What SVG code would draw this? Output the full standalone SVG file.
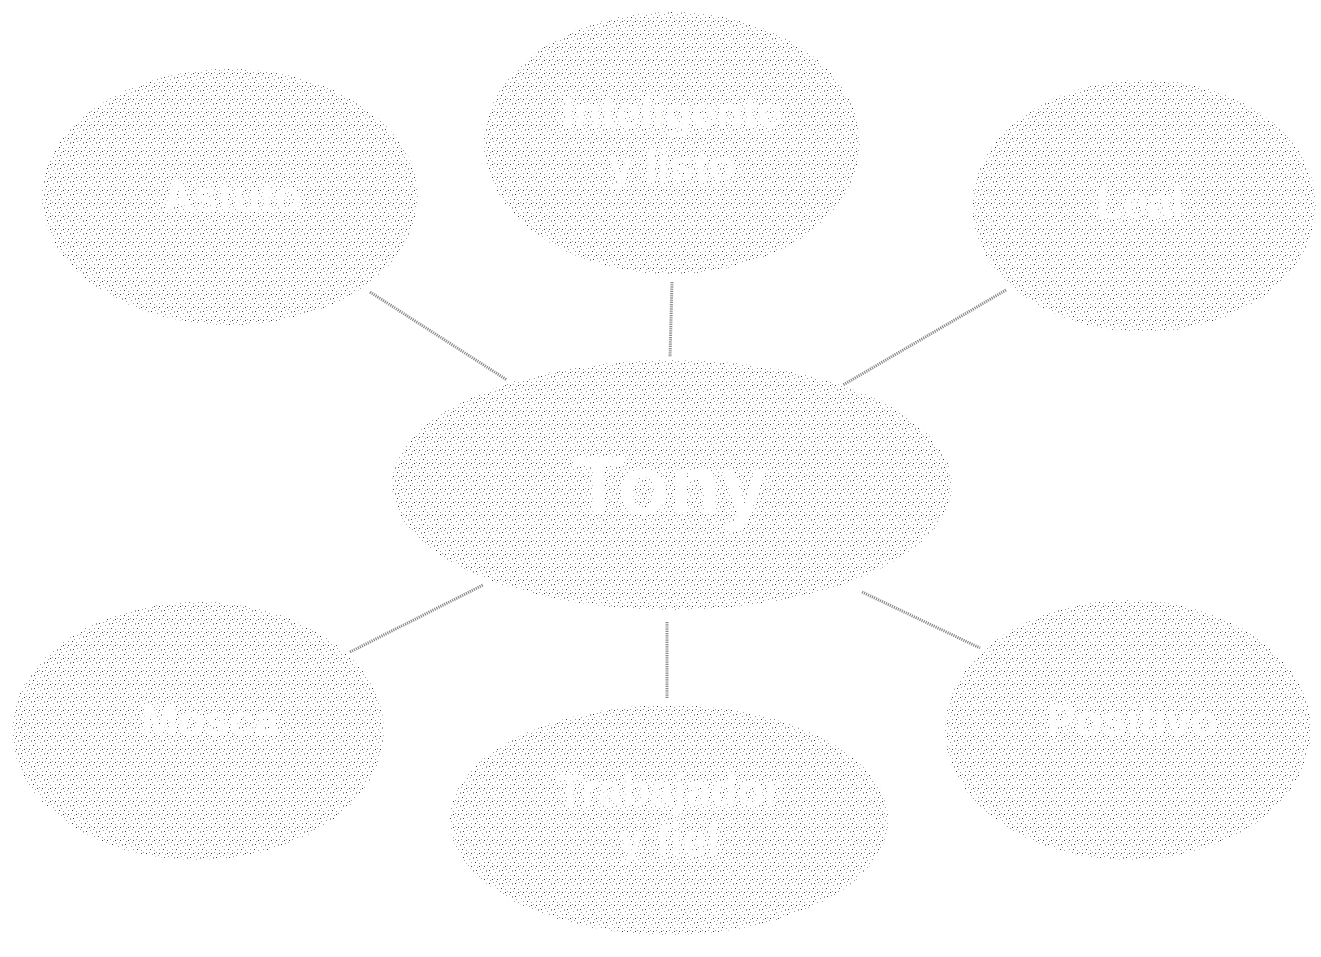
<svg xmlns="http://www.w3.org/2000/svg" width="1321" height="957" viewBox="0 0 1321 957">
<defs>
<pattern id="stip" width="13" height="13" patternUnits="userSpaceOnUse">
<g fill="#9c9c9c">
<rect x="1" y="1" width="1" height="1"/><rect x="5" y="0" width="1" height="1"/><rect x="9" y="2" width="1" height="1"/>
<rect x="3" y="4" width="1" height="1"/><rect x="11" y="5" width="1" height="1"/>
<rect x="0" y="7" width="1" height="1"/><rect x="6" y="7" width="1" height="1"/><rect x="9" y="9" width="1" height="1"/>
<rect x="2" y="10" width="1" height="1"/><rect x="12" y="11" width="1" height="1"/><rect x="5" y="12" width="1" height="1"/>
</g>
<g fill="#3a3a3a">
<rect x="7" y="4" width="1" height="1"/><rect x="3" y="8" width="1" height="1"/><rect x="11" y="8" width="1" height="1"/><rect x="8" y="12" width="1" height="1"/>
</g>
</pattern>
</defs>
<style>
.node{fill:url(#stip)}
.lbl{font-family:"Liberation Sans",Arial,sans-serif;font-weight:bold;fill:#fff;text-anchor:middle;dominant-baseline:central}
.conn{stroke:#8a8a8a;stroke-width:3;stroke-dasharray:1.2 1;fill:none}
</style>
<rect width="1321" height="957" fill="#fff"/>
<g id="connectors">
<line class="conn" x1="370" y1="292" x2="507" y2="380"/>
<line class="conn" x1="672" y1="282" x2="670" y2="357"/>
<line class="conn" x1="1006" y1="290" x2="843" y2="385"/>
<line class="conn" x1="350" y1="652" x2="483" y2="585"/>
<line class="conn" x1="667" y1="622" x2="667" y2="698"/>
<line class="conn" x1="862" y1="592" x2="980" y2="648"/>
</g>
<g id="node-tl"><ellipse class="node" cx="230" cy="197" rx="188" ry="128"/><text class="lbl" x="232" y="196" font-size="44">Astuto</text></g>
<g id="node-tc"><ellipse class="node" cx="672" cy="143" rx="188" ry="131"/><text class="lbl" x="672" y="112" font-size="44">Inteligente</text><text class="lbl" x="672" y="165" font-size="44">y listo</text></g>
<g id="node-tr"><ellipse class="node" cx="1144" cy="206" rx="172" ry="126"/><text class="lbl" x="1140" y="202" font-size="44">Leal</text></g>
<g id="node-center"><ellipse class="node" cx="672" cy="485" rx="280" ry="125"/><text class="lbl" x="670" y="485" font-size="84">Tony</text></g>
<g id="node-bl"><ellipse class="node" cx="198" cy="731" rx="186" ry="129"/><text class="lbl" x="210" y="720" font-size="44">Mosca</text></g>
<g id="node-bc"><ellipse class="node" cx="669" cy="820" rx="219" ry="115"/><text class="lbl" x="669" y="790" font-size="44">Trabajador</text><text class="lbl" x="669" y="840" font-size="44">y fiel</text></g>
<g id="node-br"><ellipse class="node" cx="1128" cy="730" rx="183" ry="130"/><text class="lbl" x="1132" y="720" font-size="44">Positivo</text></g>
</svg>
